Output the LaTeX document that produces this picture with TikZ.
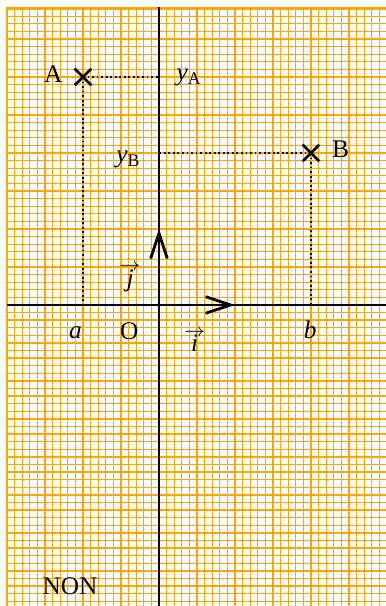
\documentclass[tikz,border=0pt]{standalone}
\usepackage{amsmath, amssymb}
\usepackage{fontspec}
\setmainfont{Liberation Serif}
\usepackage{xcolor}
\usepackage{tikz}
\usetikzlibrary{arrows.meta}

\definecolor{papier}{RGB}{255,165,0}
\newcommand{\vecteur}[1]{\ooalign{\textit{#1}\cr\hidewidth\raisebox{0.6em}{$\scriptstyle\rightarrow$}\hidewidth\cr}}

\begin{document}
\begin{tikzpicture}[font=\fontsize{9.5}{11}\selectfont,
    fin/.style = {papier, line width=0.5pt},
    gros/.style = {papier, line width=0.9pt},
    axe/.style = {line width=1.05pt},
    vect/.style = {line width=1.05pt, -{Straight Barb[length=3.3mm, width=2.2mm, line width=1.05pt]}},
    croix/.style = {line width=1pt},
    pointille/.style = {densely dotted, line width=0.7pt}]
    \useasboundingbox (-2.092,-3.961) rectangle (2.974,4.013);

    % papier millimetre
    \draw[fin, step=1mm] (-2,-4) grid (3,3.9);
    \draw[gros, step=1cm] (-2,-4) grid (3,3.9);
    \draw[gros] (-2,-4) rectangle (3,3.9);

    % points
    \coordinate (O) at (0,0);
    \coordinate (A) at (-1,3);
    \coordinate (B) at (2,2);
    \coordinate (Ay) at (0,3);
    \coordinate (Ax) at (-1,0);
    \coordinate (By) at (0,2);
    \coordinate (Bx) at (2,0);
    \coordinate (I) at (1,0);
    \coordinate (J) at (0,1);
    \coordinate (xg) at (-2,0);
    \coordinate (xd) at (3,0);
    \coordinate (yh) at (0,3.92);
    \coordinate (yb) at (0,-4);

    % pointilles
    \draw[pointille] (A) -- (Ay);
    \draw[pointille] (A) -- (Ax);
    \draw[pointille] (B) -- (By);
    \draw[pointille] (B) -- (Bx);

    % axes
    \draw[axe] (xg) -- (xd);
    \draw[axe] (yb) -- (yh);
    \draw[vect] (O) -- (I);
    \draw[vect] (O) -- (J);

    % croix
    \draw[croix] ([shift={(-0.11,0.11)}]A) -- ([shift={(0.11,-0.11)}]A);
    \draw[croix] ([shift={(-0.11,-0.11)}]A) -- ([shift={(0.11,0.11)}]A);
    \draw[croix] ([shift={(-0.11,0.11)}]B) -- ([shift={(0.11,-0.11)}]B);
    \draw[croix] ([shift={(-0.11,-0.11)}]B) -- ([shift={(0.11,0.11)}]B);

    % etiquettes
    \node (lA) at (-1.39,3.04) {A};
    \node (lB) at (2.39,2.05) {B};
    \node (lyA) at (0.40,2.99) {\textit{y}\textsubscript{A}};
    \node (lyB) at (-0.40,1.91) {\textit{y}\textsubscript{B}};
    \node (lO) at (-0.39,-0.34) {O};
    \node (la) at (-1.10,-0.36) {\textit{a}};
    \node (lb) at (1.99,-0.33) {\textit{b}};
    \node (li) at (0.47,-0.50) {\vecteur{i}};
    \node (lj) at (-0.38,0.36) {\vecteur{j}};
    \node (lnon) at (-1.17,-3.70) {NON};
\end{tikzpicture}
\end{document}
